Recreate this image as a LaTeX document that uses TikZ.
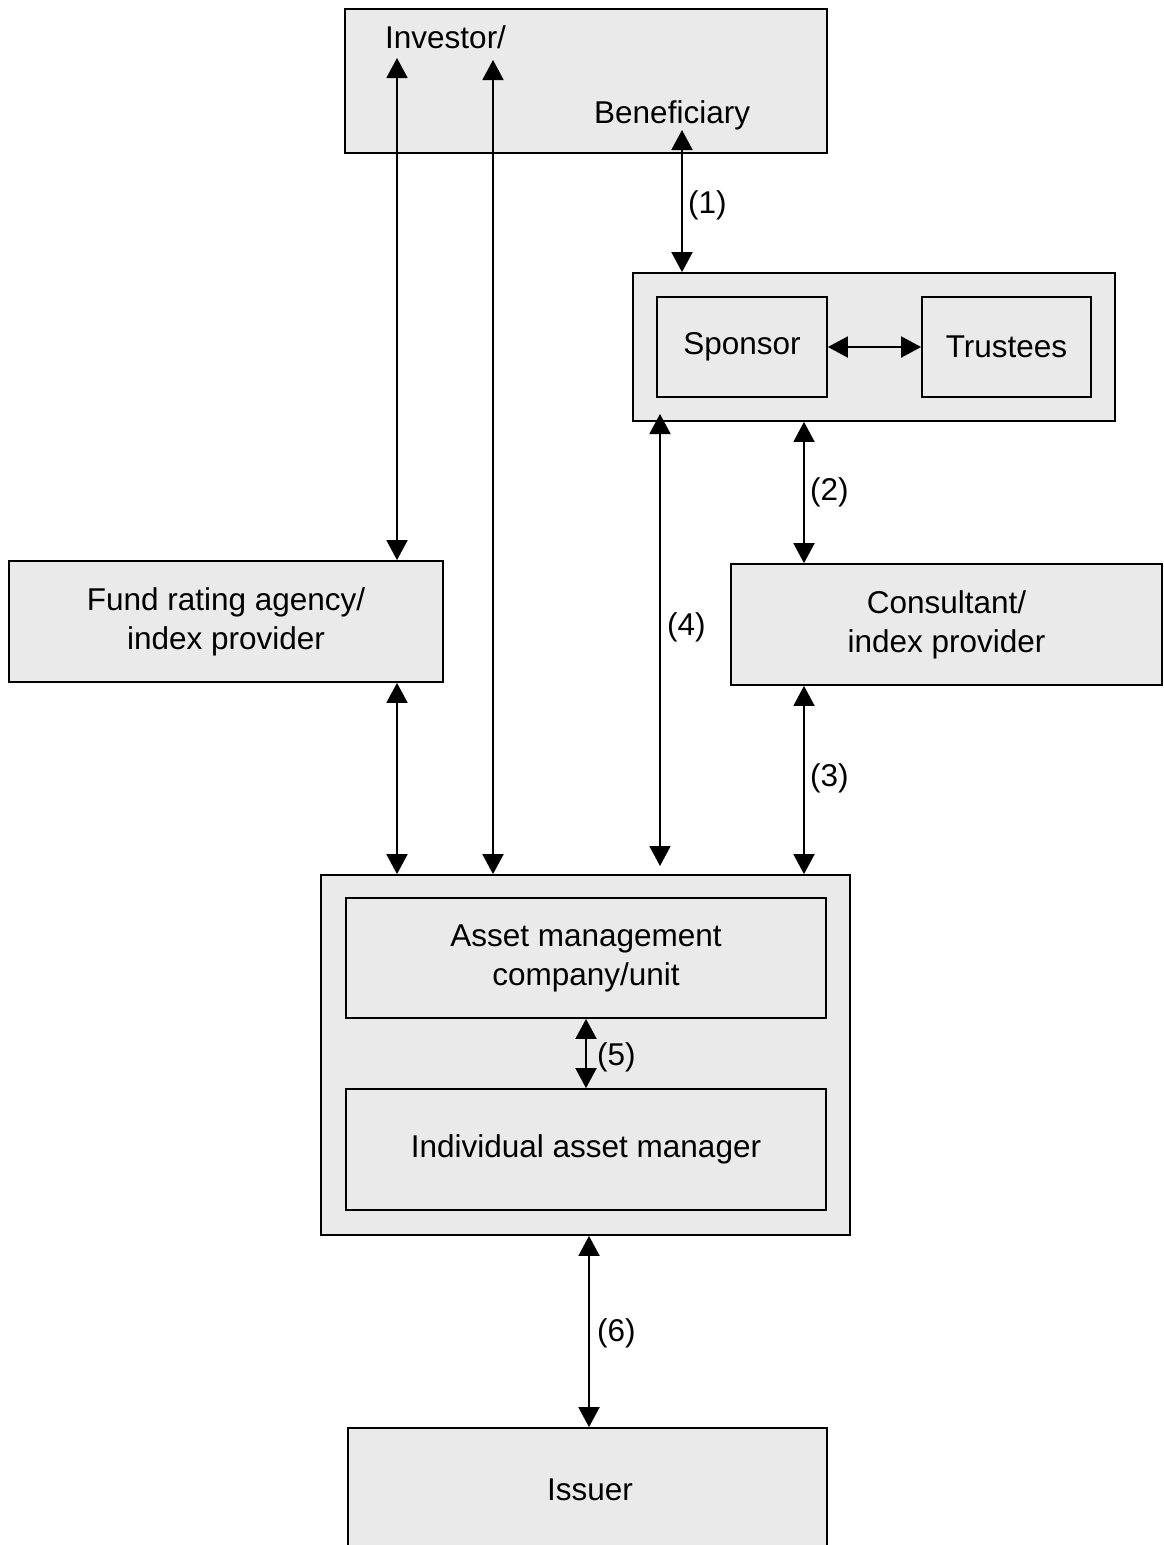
\documentclass[tikz,border=0pt]{standalone}
\usepackage{fontspec}
\setmainfont{Liberation Sans}
\usetikzlibrary{arrows.meta}
\definecolor{boxgray}{HTML}{EAEAEA}
\begin{document}
\begin{tikzpicture}[x=1pt,y=-1pt,
  box/.style={draw=black,line width=1.8pt,fill=boxgray,inner sep=0pt,align=center,
    font=\fontsize{31.5}{39}\selectfont},
  lbl/.style={inner sep=0pt,anchor=west,font=\fontsize{31.5}{39}\selectfont},
  arr/.style={line width=1.9pt,{Triangle[width=21pt,length=20pt]}-{Triangle[width=21pt,length=20pt]}}]
\useasboundingbox (0,0) rectangle (1163,1545);
% boxes
\node[box,minimum width=482,minimum height=144] (inv) at (586,81) {};
\node[lbl,anchor=base west] (invt) at (385,48) {Investor/};
\node[lbl,anchor=base west] (bent) at (594,123) {Beneficiary};
\node[box,minimum width=482,minimum height=148] (spoo) at (874,347) {};
\node[box,minimum width=170,minimum height=100] (spo) at (742,347) {Sponsor};
\node[box,minimum width=169,minimum height=100] (tru) at (1006.5,347) {Trustees};
\node[box,minimum width=434,minimum height=121] (fra) at (226,621.5) {Fund rating agency/\\index provider};
\node[box,minimum width=431,minimum height=121] (con) at (946.5,624.5) {Consultant/\\index provider};
\node[box,minimum width=529,minimum height=360] (amo) at (585.5,1055) {};
\node[box,minimum width=480,minimum height=120] (amc) at (586,958) {Asset management\\company/unit};
\node[box,minimum width=480,minimum height=121] (iam) at (586,1149.5) {Individual asset manager};
\node[box,minimum width=479,minimum height=140] (iss) at (587.5,1498) {};
\node[lbl,anchor=center] (isst) at (590,1490) {Issuer};
% free ends
\coordinate (i1) at (397,58);
\coordinate (i2) at (493,60);
\coordinate (b1) at (682,130);
\coordinate (s4) at (660,414);
\coordinate (a4) at (660,866);
% connectors
\draw[arr] (i1) -- (fra.north -| i1);
\draw[arr] (i2) -- (amo.north -| i2);
\draw[arr] (b1) -- (spoo.north -| b1);
\draw[arr] (spo.east) -- (tru.west);
\draw[arr] (fra.south -| i1) -- (amo.north -| i1);
\draw[arr] (s4) -- (a4);
\draw[arr] (spoo.south -| 804,0) -- (con.north -| 804,0);
\draw[arr] (con.south -| 804,0) -- (amo.north -| 804,0);
\draw[arr] (amc.south) -- (iam.north);
\draw[arr] (amo.south -| 589,0) -- (iss.north -| 589,0);
% labels
\node[lbl] (l1) at (688,205) {(1)};
\node[lbl] (l2) at (810,492) {(2)};
\node[lbl] (l3) at (810,778) {(3)};
\node[lbl] (l4) at (667,627) {(4)};
\node[lbl] (l5) at (597,1057) {(5)};
\node[lbl] (l6) at (597,1333) {(6)};
\end{tikzpicture}
\end{document}
